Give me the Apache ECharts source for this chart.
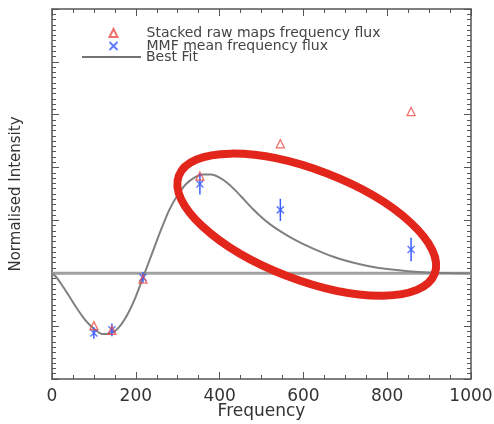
<!DOCTYPE html>
<html><head><meta charset="utf-8">
<script src="https://cdn.jsdelivr.net/npm/echarts@6/dist/echarts.min.js"></script>
<style>html,body{margin:0;padding:0;background:#fff}#c{width:494px;height:424px}</style>
</head><body><div id="c"></div>
<script>
// Planck frequency channels
const frequencies = [100, 143, 217, 353, 545, 857];
// Stacked raw maps frequency flux (red triangles)
const stackedFlux = [-0.99, -1.08, -0.11, 1.84, 2.45, 3.06];
// MMF mean frequency flux (blue crosses) and error bars
const mmfFlux = [-1.13, -1.07, -0.08, 1.69, 1.20, 0.45];
const mmfError = [0.11, 0.12, 0.10, 0.20, 0.21, 0.22];
// Best fit curve
const fitFreq = [0, 10, 20, 40, 60, 80, 100, 120, 140, 160, 180, 200, 220, 240, 260, 280, 300, 320, 340, 360, 380, 400, 420, 440, 460, 480, 500, 520, 540, 560, 580, 600, 640, 680, 720, 760, 800, 850, 900, 950, 1000];
const fitValue = [0, -0.07, -0.18, -0.42, -0.67, -0.89, -1.05, -1.15, -1.14, -1.02, -0.78, -0.44, -0.02, 0.40, 0.82, 1.20, 1.48, 1.69, 1.81, 1.87, 1.87, 1.81, 1.70, 1.55, 1.38, 1.21, 1.06, 0.93, 0.82, 0.72, 0.63, 0.55, 0.41, 0.29, 0.20, 0.13, 0.08, 0.04, 0.015, 0.005, 0];
// zero reference line
const zeroLineX = [0, 1000];
const zeroLineY = [0, 0];
// axes
const xTickStep = 200, xMin = 0, xMax = 1000;
const yTickStep = 1, yMin = -2, yMax = 5;

const names = ['Stacked raw maps frequency flux', 'MMF mean frequency flux', 'Best Fit'];
const AX = '#555';
const RED = '#ee4a44';
const BLUE = '#3a5cff';
const FIT = '#808080';

const chart = echarts.init(document.getElementById('c'), null, {renderer: 'canvas'});

function xAxisDef(pos, labels) {
  return {
    type: 'value', position: pos, min: xMin, max: xMax, interval: xTickStep,
    axisLine: {show: true, onZero: false, lineStyle: {color: AX, width: 1.5}},
    axisTick: {show: true, inside: true, length: 7, lineStyle: {color: AX, width: 1}},
    minorTick: {show: true, splitNumber: 4, length: 4, lineStyle: {color: AX, width: 1}},
    splitLine: {show: false}, minorSplitLine: {show: false},
    axisLabel: {show: labels, margin: 9, color: '#333', fontFamily: 'DejaVu Sans', fontSize: 17,
                formatter: v => String(v)},
    name: labels ? 'Frequency' : '', nameLocation: 'middle', nameGap: 24, nameMoveOverlap: false,
    nameTextStyle: {color: '#333', fontFamily: 'DejaVu Sans', fontSize: 17, lineHeight: 17}
  };
}
function yAxisDef(pos, labels) {
  return {
    type: 'value', position: pos, min: yMin, max: yMax, interval: yTickStep,
    axisLine: {show: true, onZero: false, lineStyle: {color: AX, width: 1.5}},
    axisTick: {show: true, inside: true, length: 7, lineStyle: {color: AX, width: 1}},
    minorTick: {show: true, splitNumber: 10, length: 4, lineStyle: {color: AX, width: 1}},
    splitLine: {show: false}, minorSplitLine: {show: false},
    axisLabel: {show: false},
    name: labels ? 'Normalised Intensity' : '', nameLocation: 'middle', nameGap: 28, nameMoveOverlap: false,
    nameTextStyle: {color: '#333', fontFamily: 'DejaVu Sans', fontSize: 15}
  };
}

const legendText = {color: '#444', fontFamily: 'DejaVu Sans', fontSize: 14, lineHeight: 12};
const option = {
  animation: false,
  backgroundColor: '#fff',
  grid: {left: 52, right: 23, top: 9, bottom: 45, outerBoundsMode: 'none', containLabel: false},
  xAxis: [xAxisDef('bottom', true), xAxisDef('top', false)],
  yAxis: [yAxisDef('left', true), yAxisDef('right', false)],
  legend: [
    {
      orient: 'vertical', left: 102, top: 21, itemWidth: 8, itemHeight: 8, itemGap: -1,
      textStyle: Object.assign({padding: [0, 0, 0, 24]}, legendText),
      data: [{name: names[0]}, {name: names[1]}]
    },
    {
      orient: 'vertical', left: 77, top: 45, itemWidth: 59, itemHeight: 1.5,
      textStyle: Object.assign({padding: [0, 0, 0, 0]}, legendText),
      data: [{name: names[2], icon: 'rect', itemStyle: {color: '#444'}}]
    }
  ],
  series: [
    {
      name: 'zero', type: 'line', silent: true, symbol: 'none', z: 1,
      lineStyle: {color: '#a0a0a0', width: 3},
      data: zeroLineX.map((x, i) => [x, zeroLineY[i]])
    },
    {
      name: names[2], type: 'line', symbol: 'none', showSymbol: false, smooth: 0.25, z: 2,
      itemStyle: {color: FIT},
      lineStyle: {color: FIT, width: 2},
      data: fitFreq.map((x, i) => [x, fitValue[i]])
    },
    {
      name: 'errors', type: 'custom', z: 3, silent: true,
      data: frequencies.map((f, i) => [f, mmfFlux[i] - mmfError[i], mmfFlux[i] + mmfError[i]]),
      encode: {x: 0, y: [1, 2]},
      renderItem: function (params, api) {
        const p1 = api.coord([api.value(0), api.value(1)]);
        const p2 = api.coord([api.value(0), api.value(2)]);
        return {type: 'line', shape: {x1: p1[0], y1: p1[1], x2: p2[0], y2: p2[1]},
                style: {stroke: BLUE, lineWidth: 1.5}};
      }
    },
    {
      name: names[1], type: 'scatter', z: 4,
      symbol: 'path://M0 0L10 10M10 0L0 10', symbolSize: 7,
      itemStyle: {color: 'none', borderColor: BLUE, borderWidth: 1.5},
      data: frequencies.map((f, i) => [f, mmfFlux[i]])
    },
    {
      name: names[0], type: 'scatter', z: 5,
      symbol: 'triangle', symbolSize: 8,
      itemStyle: {color: 'rgba(255,255,255,0)', borderColor: RED, borderWidth: 1.3},
      data: frequencies.map((f, i) => [f, stackedFlux[i]])
    }
  ]
};
chart.setOption(option);

// red hand-drawn-style ellipse annotation, centred in data space
const ctr = chart.convertToPixel({xAxisIndex: 0, yAxisIndex: 0}, [608, 0.92]);
chart.setOption({
  graphic: [{
    type: 'ellipse', x: ctr[0], y: ctr[1], rotation: -21 * Math.PI / 180, z: 100,
    shape: {cx: 0, cy: 0, rx: 137, ry: 55},
    style: {fill: 'none', stroke: '#e3261c', lineWidth: 8}
  }]
});
</script>
</body></html>
